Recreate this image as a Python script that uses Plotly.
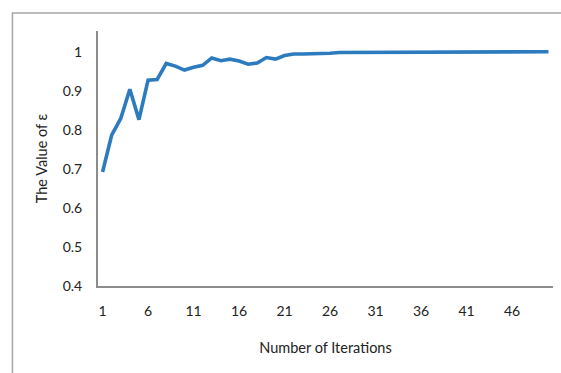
import plotly.graph_objects as go

# Convergence of epsilon over the optimisation iterations
iterations = list(range(1, 51))
epsilon = [
    0.692, 0.786, 0.829, 0.904, 0.826, 0.927, 0.929, 0.970, 0.963, 0.953,
    0.960, 0.965, 0.984, 0.977, 0.981, 0.976, 0.968, 0.971, 0.985, 0.981,
    0.990, 0.994, 0.994, 0.994, 0.994, 0.996, 0.998, 0.998, 0.998, 1.0,
    1.0, 1.0, 1.0, 1.0, 1.0, 1.0, 1.0, 1.0, 1.0, 1.0,
    1.0, 1.0, 1.0, 1.0, 1.0, 1.0, 1.0, 1.0, 1.0, 1.0,
]
x_ticks = [1, 6, 11, 16, 21, 26, 31, 36, 41, 46]
y_ticks = [0.4, 0.5, 0.6, 0.7, 0.8, 0.9, 1]
y_tick_text = ["0.4", "0.5", "0.6", "0.7", "0.8", "0.9", "1"]

FONT = "Lato, 'Open Sans', sans-serif"
AXIS_GREY = "#8c8c8c"

fig = go.Figure(
    go.Scatter(
        x=iterations,
        y=epsilon,
        mode="lines",
        line=dict(color="#2c7bbf", width=3.6),
        hoverinfo="x+y",
    )
)

fig.update_layout(
    width=561,
    height=373,
    margin=dict(l=98, r=8, t=31, b=87),
    paper_bgcolor="white",
    plot_bgcolor="white",
    showlegend=False,
    font=dict(family=FONT, size=14, color="#222222"),
    shapes=[
        # outer chart frame (only its top and left edges fall inside the page)
        dict(
            type="rect", xref="paper", yref="paper",
            x0=-0.188, x1=1.2, y0=-0.6, y1=1.071,
            line=dict(color="#a6a6a6", width=1.5),
            fillcolor="rgba(0,0,0,0)", layer="below",
        )
    ],
)

fig.update_xaxes(
    range=[0.5, 50.5],
    tickmode="array",
    tickvals=x_ticks,
    ticks="",
    ticklabelstandoff=11,
    showgrid=False,
    zeroline=False,
    showline=True,
    linecolor=AXIS_GREY,
    linewidth=2,
    tickfont=dict(size=14),
    title=dict(text="Number of Iterations", font=dict(size=14.5), standoff=25),
)

fig.update_yaxes(
    range=[0.4, 1.053],
    tickmode="array",
    tickvals=y_ticks,
    ticktext=y_tick_text,
    ticks="",
    ticklabelstandoff=11,
    showgrid=False,
    zeroline=False,
    showline=True,
    linecolor=AXIS_GREY,
    linewidth=2,
    tickfont=dict(size=14),
    title=dict(text="The Value of ε", font=dict(size=14.5), standoff=12),
)

fig.write_html("out.html")
